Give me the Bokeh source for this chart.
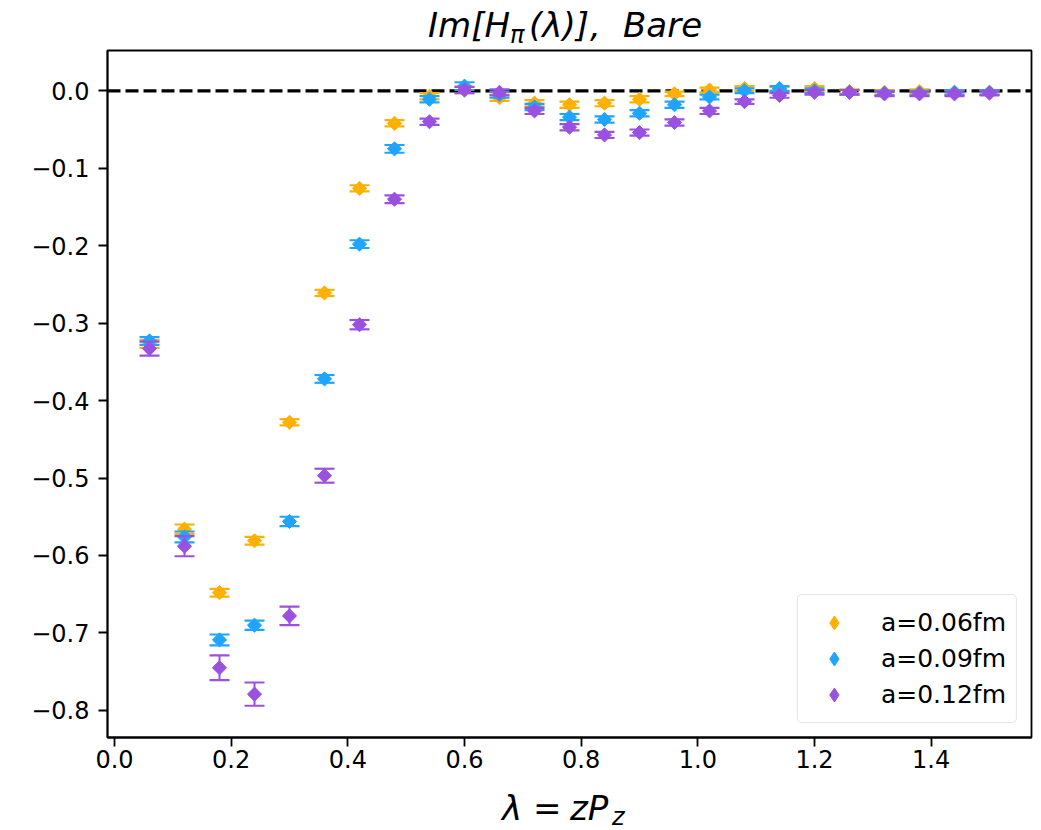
import math
from bokeh.plotting import figure
from bokeh.models import (ColumnDataSource, Span, Legend, LegendItem,
                          FixedTicker, Range1d, Div)
from bokeh.layouts import column
from bokeh.embed import file_html
from bokeh.resources import INLINE

# ---------------- data ----------------
lam = [0.06, 0.12, 0.18, 0.24, 0.30, 0.36, 0.42, 0.48, 0.54, 0.60, 0.66, 0.72, 0.78,
       0.84, 0.90, 0.96, 1.02, 1.08, 1.14, 1.20, 1.26, 1.32, 1.38, 1.44, 1.50]

im_a006 = [-0.327, -0.566, -0.648, -0.581, -0.428, -0.261, -0.126, -0.042, -0.007, 0.001,
           -0.009, -0.016, -0.018, -0.016, -0.011, -0.004, 0.001, 0.003, 0.002, 0.003,
           -0.001, -0.002, -0.001, -0.002, -0.002]
err_a006 = [0.005, 0.006, 0.005, 0.005, 0.004, 0.004, 0.004, 0.004, 0.004, 0.004,
            0.004, 0.004, 0.004, 0.004, 0.004, 0.003, 0.003, 0.003, 0.003, 0.003,
            0.003, 0.003, 0.003, 0.003, 0.003]

im_a009 = [-0.323, -0.576, -0.709, -0.690, -0.556, -0.372, -0.198, -0.075, -0.011, 0.006,
           -0.005, -0.021, -0.034, -0.037, -0.029, -0.018, -0.008, 0.000, 0.003, 0.000,
           -0.002, -0.003, -0.003, -0.002, -0.002]
err_a009 = [0.005, 0.007, 0.007, 0.006, 0.006, 0.005, 0.005, 0.005, 0.004, 0.005,
            0.004, 0.004, 0.004, 0.004, 0.004, 0.004, 0.003, 0.003, 0.003, 0.003,
            0.003, 0.003, 0.003, 0.003, 0.003]

im_a012 = [-0.333, -0.588, -0.745, -0.779, -0.678, -0.497, -0.302, -0.140, -0.040, 0.001,
           -0.002, -0.026, -0.047, -0.057, -0.054, -0.041, -0.026, -0.014, -0.006, -0.002,
           -0.002, -0.004, -0.004, -0.004, -0.003]
err_a012 = [0.009, 0.013, 0.016, 0.015, 0.012, 0.009, 0.006, 0.005, 0.004, 0.004,
            0.004, 0.004, 0.004, 0.004, 0.004, 0.004, 0.004, 0.003, 0.003, 0.003,
            0.003, 0.003, 0.003, 0.003, 0.003]

series_names = ["a=0.06fm", "a=0.09fm", "a=0.12fm"]
series_colors = ["#FFB000", "#1FA5FF", "#9B51E0"]

x_ticks = [0.0, 0.2, 0.4, 0.6, 0.8, 1.0, 1.2, 1.4]
x_tick_labels = ["0.0", "0.2", "0.4", "0.6", "0.8", "1.0", "1.2", "1.4"]
y_ticks = [0.0, -0.1, -0.2, -0.3, -0.4, -0.5, -0.6, -0.7, -0.8]
y_tick_labels = ["0.0", "\u22120.1", "\u22120.2", "\u22120.3", "\u22120.4",
                 "\u22120.5", "\u22120.6", "\u22120.7", "\u22120.8"]

TOTAL_W = 1037

# ---------------- figure ----------------
p = figure(output_backend="svg", toolbar_location=None,
           frame_width=924, frame_height=687,
           min_border_left=107, min_border_right=6, min_border_top=2, min_border_bottom=44,
           x_range=Range1d(-0.012, 1.572), y_range=Range1d(-0.835, 0.052),
           margin=0)
p.background_fill_color = "white"
p.border_fill_color = "white"
p.xgrid.visible = False
p.ygrid.visible = False
p.outline_line_color = "black"
p.outline_line_width = 1.8
p.outline_line_alpha = 1.0

for ax, ticks, labels in ((p.xaxis[0], x_ticks, x_tick_labels), (p.yaxis[0], y_ticks, y_tick_labels)):
    ax.ticker = FixedTicker(ticks=ticks)
    ax.major_label_overrides = {t: l for t, l in zip(ticks, labels)}
    ax.axis_line_width = 1.8
    ax.major_tick_line_width = 1.8
    ax.major_tick_out = 9
    ax.major_tick_in = 0
    ax.minor_tick_out = 0
    ax.minor_tick_in = 0
    ax.major_label_text_font = "DejaVu Sans"
    ax.major_label_text_font_size = "24px"
    ax.major_label_text_color = "black"
p.yaxis[0].major_label_standoff = 9
p.xaxis[0].major_label_standoff = 3

# zero reference line
p.add_layout(Span(location=0, dimension="width", line_color="black",
                  line_width=3.2, line_dash="13 5", level="underlay"))

items = []
for name, color, ys, es in zip(series_names, series_colors,
                               (im_a006, im_a009, im_a012),
                               (err_a006, err_a009, err_a012)):
    lo = [y - e for y, e in zip(ys, es)]
    hi = [y + e for y, e in zip(ys, es)]
    src = ColumnDataSource(dict(x=lam, y=ys, lo=lo, hi=hi))
    p.segment(x0="x", y0="lo", x1="x", y1="hi", source=src,
              line_color=color, line_width=2)
    p.scatter(x="x", y="lo", source=src, marker="dash", size=20,
              line_color=color, line_width=2.2)
    p.scatter(x="x", y="hi", source=src, marker="dash", size=20,
              line_color=color, line_width=2.2)
    p.scatter(x="x", y="y", source=src, marker="square", size=10,
              angle=math.pi / 4, fill_color=color, line_color=color, line_width=1)
    # legend-only glyph (not drawn in the plot area)
    leg_r = p.scatter(x="x", y="y", source=src, marker="diamond", size=14,
                      fill_color=color, line_color=color, visible=False)
    items.append(LegendItem(label=name, renderers=[leg_r]))

legend = Legend(items=items, location="bottom_right", margin=14,
                padding=10, spacing=1, glyph_height=35, glyph_width=52,
                label_standoff=21, label_text_font="DejaVu Sans",
                label_text_font_size="25px", label_text_color="black",
                border_line_color="#cccccc", border_line_width=1.5,
                border_radius=5, background_fill_alpha=0.8,
                inactive_fill_alpha=0.0, click_policy="none")
p.add_layout(legend)

# ---------------- title and x label (HTML text with subscripts) ----------------
def piece(txt, left, top, size, style="italic"):
    return ('<span style="position:absolute; left:%dpx; top:%dpx; '
            'font-family:\'DejaVu Sans\'; font-style:%s; font-size:%dpx; '
            'line-height:1; white-space:nowrap; color:#000;">%s</span>'
            % (left, top, style, size, txt))

title_html = ('<div style="position:relative; width:%dpx; height:48px;">' % TOTAL_W
              + piece("Im[H", 428, 8, 34)
              + piece("\u03c0", 510, 23, 24)
              + piece("(\u03bb)]", 529, 8, 34)
              + piece(",", 590, 8, 34)
              + piece("Bare", 623, 8, 34)
              + '</div>')
xlab_html = ('<div style="position:relative; width:%dpx; height:45px;">' % TOTAL_W
             + piece("\u03bb", 502, 10, 34)
             + piece("=", 533, 10, 34, "normal")
             + piece("zP", 570, 10, 34)
             + piece("z", 612, 24, 24)
             + '</div>')

title_div = Div(text=title_html, width=TOTAL_W, height=48, margin=0)
xlab_div = Div(text=xlab_html, width=TOTAL_W, height=45, margin=0)

layout = column(title_div, p, xlab_div, spacing=0, margin=0)

open("out.html", "w").write(file_html(layout, INLINE))
